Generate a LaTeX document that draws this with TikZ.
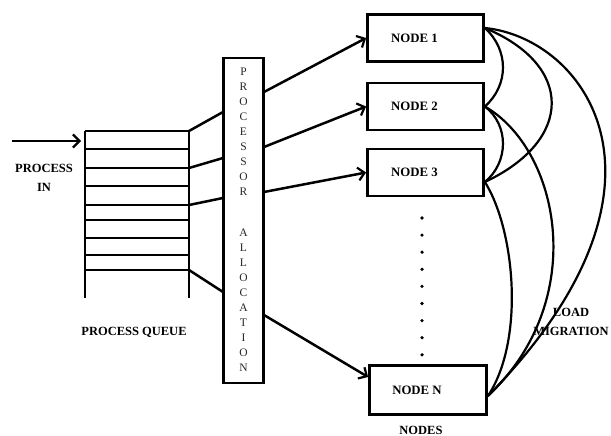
\documentclass[tikz,border=0pt]{standalone}
\usepackage{fontspec}
\setmainfont{Liberation Serif}
\usetikzlibrary{arrows.meta}
\begin{document}
\begin{tikzpicture}[x=1pt,y=-1pt,
  lbl/.style={font=\fontsize{12.5}{19}\bfseries\selectfont, inner sep=0pt, align=center},
  nodebox/.style={draw, line width=2.8pt, minimum width=116pt, minimum height=47pt,
    inner sep=0pt, font=\fontsize{12.8}{15}\bfseries\selectfont},
  feed/.style={line width=2.5pt},
  flow/.style={line width=2.5pt, -{Straight Barb[length=6.5pt,width=13pt,line width=2.2pt]}},
  mig/.style={line width=2.2pt},
  letters/.style={font=\fontsize{11.5}{15}\selectfont, align=center, inner sep=0pt, text=black!85},
  qline/.style={line width=2.5pt}
]
\useasboundingbox (0,0) rectangle (611,436);

% incoming process arrow
\coordinate (inlet) at (12,141);
\coordinate (qin) at (81,141);
\draw[flow] (inlet) -- (qin);
\node[lbl] (pin) at (44,178) {PROCESS\\IN};

% process queue
\draw[qline] (85,131) -- (85,298);
\draw[qline] (189,131) -- (189,298);
\foreach \y in {131,149,168,186,205,220,238,255,270}
  \draw[qline] (85,\y) -- (189,\y);
\node[lbl] (pq) at (134,332) {PROCESS QUEUE};

% processor allocation column
\node[draw, line width=2.8pt, minimum width=40pt, minimum height=325pt, inner sep=0pt]
  (alloc) at (243.5,220.5) {};
\node[letters] (procword) at (243.5,132) {P\\R\\O\\C\\E\\S\\S\\O\\R};
\node[letters] (allocword) at (243.5,300) {A\\L\\L\\O\\C\\A\\T\\I\\O\\N};

% queue to allocator
\coordinate (qa) at (189,131); \coordinate (aa) at (223,112);
\coordinate (qb) at (189,168); \coordinate (ab) at (223,158);
\coordinate (qc) at (189,205); \coordinate (ac) at (223,198);
\coordinate (qd) at (189,270); \coordinate (ad) at (223,292);
\draw[feed] (qa) -- (aa);
\draw[feed] (qb) -- (ab);
\draw[feed] (qc) -- (ac);
\draw[feed] (qd) -- (ad);

% nodes (labels sit left of centre)
\node[nodebox] (n1) at (425.5,38)  {NODE 1\rule{22pt}{0pt}};
\node[nodebox] (n2) at (425.5,106.5) {NODE 2\rule{22pt}{0pt}};
\node[nodebox] (n3) at (425.5,172.5) {NODE 3\rule{22pt}{0pt}};
\node[nodebox, minimum width=117pt, minimum height=49pt] (nN) at (428,390) {NODE N\rule{22pt}{0pt}};
\node[lbl] (nodes) at (421,430) {NODES};

% allocator to nodes
\coordinate (o1) at (264,92);
\coordinate (o2) at (264,147);
\coordinate (o3) at (264,192);
\coordinate (o4) at (264,315);
\draw[flow] (o1) -- (n1.west);
\draw[flow] (o2) -- (n2.west);
\draw[flow] (o3) -- (n3.west);
\draw[flow] (o4) -- ([yshift=13pt]nN.west);

% ellipsis dots between node 3 and node N
\foreach \i in {0,...,8}
  \fill (422,218+\i*17.1) circle (1.8pt);

% load migration paths
\coordinate (e1) at ([yshift=10pt]n1.east);
\coordinate (e2) at (n2.east);
\coordinate (e3) at ([yshift=-9.5pt]n3.east);
\coordinate (eN) at ([yshift=-6pt]nN.east);
\draw[mig] (e1) .. controls (509,50) and (509,85) .. (e2);
\draw[mig] (e2) .. controls (509,125) and (509,162) .. (e3);
\draw[mig] (e1) .. controls (574,65) and (574,140) .. (e3);
\draw[mig] (e1) .. controls (585,38) and (695,185) .. (eN);
\draw[mig] (e2) .. controls (560,150) and (590,300) .. (eN);
\draw[mig] (e3) .. controls (515,230) and (525,340) .. (eN);
\node[lbl] (lm) at (571,322) {LOAD\\MIGRATION};
\end{tikzpicture}
\end{document}
